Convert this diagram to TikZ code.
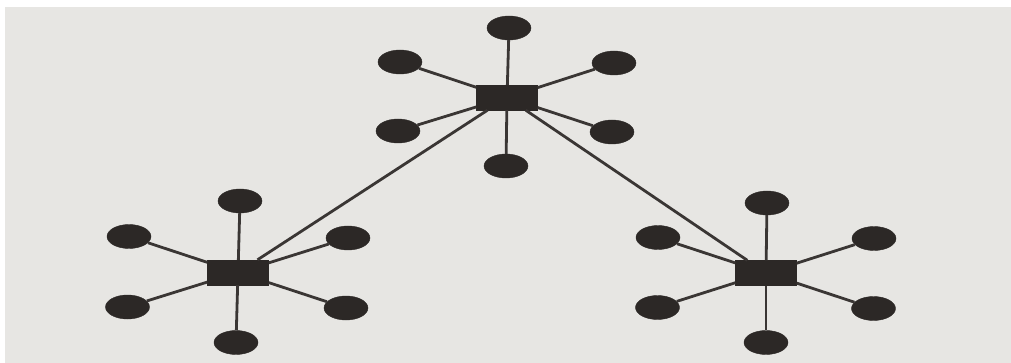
\documentclass[tikz,border=0pt]{standalone}
\usetikzlibrary{shapes.geometric}
\definecolor{bg}{HTML}{E7E6E3}
\definecolor{ink}{HTML}{2C2826}
\definecolor{wire}{HTML}{3A3634}
\begin{document}
\begin{tikzpicture}[x=1pt,y=-1pt,
  hub/.style={draw=ink,fill=ink,rectangle,minimum width=61pt,minimum height=25pt,inner sep=0pt},
  leaf/.style={draw=ink,fill=ink,ellipse,minimum width=44pt,minimum height=24pt,inner sep=0pt},
  wire/.style={draw=wire,line width=2.8pt}]
\useasboundingbox (0,0) rectangle (1011,363);
\fill[white] (0,0) rectangle (1011,363);
\fill[bg] (5,7) rectangle (1011,363);
% top star
\node[hub] (A) at (507,97.5) {};
\node[leaf] (A1) at (509,28) {};
\node[leaf] (A2) at (400,62) {};
\node[leaf] (A3) at (614,63) {};
\node[leaf] (A4) at (398,131) {};
\node[leaf] (A5) at (612,132) {};
\node[leaf] (A6) at (506,166) {};
% left star
\node[hub] (B) at (238,272.5) {};
\node[leaf] (B1) at (240,201) {};
\node[leaf] (B2) at (129,236.5) {};
\node[leaf] (B3) at (348,238) {};
\node[leaf] (B4) at (127.5,307) {};
\node[leaf] (B5) at (346,308) {};
\node[leaf] (B6) at (236,342.5) {};
% right star
\node[hub] (C) at (766,273) {};
\node[leaf] (C1) at (767,203) {};
\node[leaf] (C2) at (658,237.5) {};
\node[leaf] (C3) at (874,238.5) {};
\node[leaf] (C4) at (657.5,307.5) {};
\node[leaf] (C5) at (873.5,308.5) {};
\node[leaf] (C6) at (766,342.5) {};
% spokes
\foreach \h in {A,B,C}{
  \foreach \i in {1,...,6}{
    \draw[wire] (\h) -- (\h\i);
  }
}
% links between hubs
\draw[wire] (A) -- (B);
\draw[wire] (A) -- (C);
\end{tikzpicture}
\end{document}
